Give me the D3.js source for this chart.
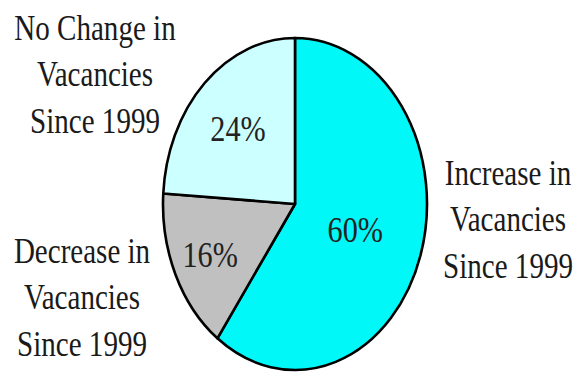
<!DOCTYPE html>
<html>
<head>
<meta charset="utf-8">
<script src="https://cdn.jsdelivr.net/npm/d3@7"></script>
<style>
  body { margin: 0; background: #fff; }
  text { font-family: "Liberation Serif", "Times New Roman", serif; }
</style>
</head>
<body>
<div id="chart"></div>
<script>
// data
const categories = ["Increase", "Decrease", "No Change"];
const values = [60, 16, 24];
const colors = ["#00f8f8", "#c0c0c0", "#ccffff"];
const labelLines = [
  ["Increase in", "Vacancies", "Since 1999"],
  ["Decrease in", "Vacancies", "Since 1999"],
  ["No Change in", "Vacancies", "Since 1999"]
];

let width = 576, height = 372;
let cx = 295, cy = 204, rx = 132, ry = 166;

const svg = d3.select("#chart")
  .append("svg")
  .attr("width", width)
  .attr("height", height)
  .attr("viewBox", [0, 0, width, height]);

const pie = d3.pie().sort(null).value(d => d);
const arcs = pie(values);

const arc = d3.arc().innerRadius(0).outerRadius(rx);

// pie is an ellipse, so scale the circle vertically
const g = svg.append("g")
  .attr("transform", `translate(${cx},${cy}) scale(1,${ry / rx})`);

g.selectAll("path")
  .data(arcs)
  .join("path")
  .attr("d", arc)
  .attr("fill", (d, i) => colors[i])
  .attr("stroke", "#000")
  .attr("stroke-width", 2.6)
  .attr("stroke-linejoin", "round")
  .attr("vector-effect", "non-scaling-stroke");

// percentage labels inside slices (radius fraction per slice)
const labelR = [0.48, 0.71, 0.63];
svg.append("g")
  .selectAll("text")
  .data(arcs)
  .join("text")
  .attr("transform", (d, i) => {
    let r = rx * labelR[i];
    let c = d3.arc().innerRadius(r).outerRadius(r).centroid(d);
    return `translate(${cx + c[0]},${cy + c[1] * ry / rx + 13}) scale(0.84,1)`;
  })
  .attr("text-anchor", "middle")
  .attr("font-size", 36)
  .attr("fill", "#222")
  .text(d => d.data + "%");

// outside labels
const labelPos = [[508, 185], [82, 263], [95, 40]];
const lab = svg.append("g")
  .selectAll("g")
  .data(labelLines)
  .join("g")
  .attr("transform", (d, i) => `translate(${labelPos[i][0]},${labelPos[i][1]}) scale(0.83,1)`);

lab.selectAll("text")
  .data(d => d)
  .join("text")
  .attr("y", (d, i) => i * 46.5)
  .attr("text-anchor", "middle")
  .attr("font-size", 35)
  .attr("fill", "#1a1a1a")
  .text(d => d);
</script>
</body>
</html>
